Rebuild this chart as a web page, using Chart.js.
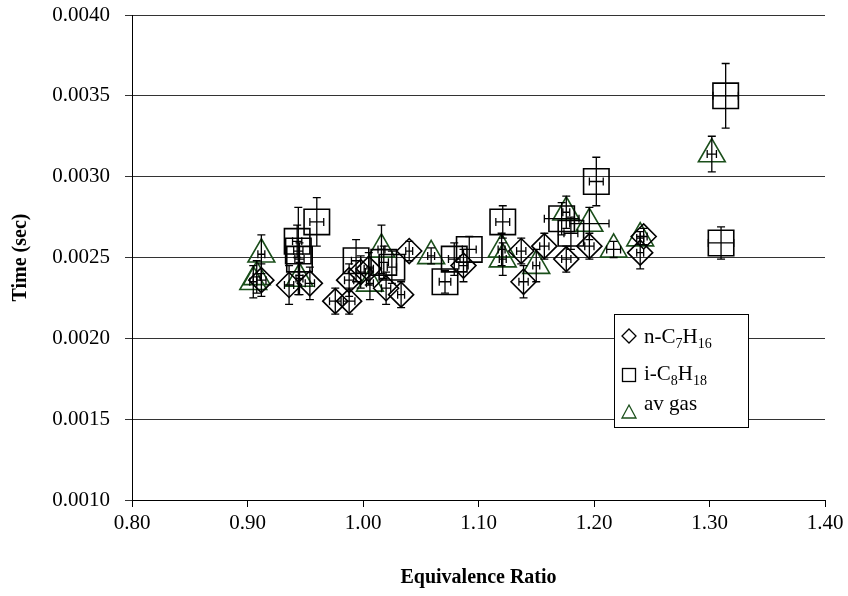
<!DOCTYPE html>
<html><head><meta charset="utf-8">
<script src="https://cdn.jsdelivr.net/npm/chart.js@4/dist/chart.umd.min.js"></script>
<style>html,body{margin:0;padding:0;background:#fff}</style>
</head><body>
<canvas id="c" width="848" height="596"></canvas>
<script>
// ---- Data ----
const heptaneX    = [0.912,0.936,0.954,0.976,0.988,0.988,0.998,1.005,1.020,1.033,1.040,1.087,1.137,1.139,1.157,1.176,1.196,1.240,1.243];
const heptaneY    = [0.00236,0.00233,0.00234,0.00223,0.00223,0.00236,0.00241,0.00243,0.00231,0.00227,0.00254,0.00245,0.00254,0.00235,0.00257,0.00249,0.00257,0.00253,0.00263];
const heptaneXErr = [0.004,0.004,0.004,0.005,0.005,0.004,0.004,0.004,0.004,0.003,0.003,0.004,0.004,0.004,0.004,0.004,0.004,0.003,0.003];
const heptaneYErr = [0.0001,0.00012,0.0001,0.00008,0.00008,0.0001,0.0001,0.0001,0.0001,0.00008,0.00006,0.0001,0.00008,0.0001,0.00008,0.00008,0.00008,0.0001,0.00005];

const isooctaneX    = [0.943,0.944,0.945,0.960,0.994,1.018,1.025,1.071,1.079,1.092,1.121,1.172,1.180,1.202,1.314,1.310];
const isooctaneY    = [0.00260,0.00254,0.00249,0.00272,0.00248,0.00247,0.00244,0.00235,0.00249,0.00255,0.00272,0.00274,0.00265,0.00297,0.00350,0.00259];
const isooctaneXErr = [0.004,0.004,0.004,0.006,0.004,0.004,0.004,0.005,0.005,0.006,0.006,0.015,0.006,0.006,0.011,0.011];
const isooctaneYErr = [0.0001,0.00027,0.0001,0.00015,0.00013,0.0001,0.0001,0.00007,0.0001,0.00008,0.0001,0.0001,0.0001,0.00015,0.0002,0.0001];

const avgasX    = [0.905,0.908,0.912,0.945,1.006,1.016,1.059,1.120,1.121,1.150,1.176,1.196,1.217,1.240,1.302];
const avgasY    = [0.00235,0.00238,0.00252,0.00237,0.00234,0.00255,0.00251,0.00255,0.00249,0.00245,0.00278,0.00271,0.00255,0.00262,0.00314];
const avgasXErr = [0.003,0.003,0.003,0.003,0.003,0.003,0.003,0.003,0.003,0.003,0.003,0.017,0.006,0.003,0.004];
const avgasYErr = [0.0001,0.0001,0.00012,0.0001,0.0001,0.00015,0.00005,0.0001,0.0001,0.0001,0.0001,0.0001,0.00005,0.00004,0.00011];

const xTickMin = 0.8, xTickMax = 1.4, xTickStep = 0.1;
const yTickMin = 0.001, yTickMax = 0.004, yTickStep = 0.0005;

const FONT = "'Liberation Serif', 'Times New Roman', serif";
const GREEN = '#1b4f1b';

function pts(xs, ys, xe, ye) {
  return xs.map((v, i) => ({x: v, y: ys[i], xe: xe[i], ye: ye[i]}));
}

const errorBars = {
  id: 'errorBars',
  afterDatasetsDraw(chart) {
    const {ctx, scales: {x, y}} = chart;
    ctx.save();
    ctx.strokeStyle = '#000';
    ctx.lineWidth = 1.3;
    const cap = 4;
    chart.data.datasets.forEach(ds => {
      ds.data.forEach(p => {
        const px = x.getPixelForValue(p.x), py = y.getPixelForValue(p.y);
        const y1 = y.getPixelForValue(p.y - p.ye), y2 = y.getPixelForValue(p.y + p.ye);
        const x1 = x.getPixelForValue(p.x - p.xe), x2 = x.getPixelForValue(p.x + p.xe);
        ctx.beginPath();
        ctx.moveTo(px, y1); ctx.lineTo(px, y2);
        ctx.moveTo(px - cap, y1); ctx.lineTo(px + cap, y1);
        ctx.moveTo(px - cap, y2); ctx.lineTo(px + cap, y2);
        ctx.moveTo(x1, py); ctx.lineTo(x2, py);
        ctx.moveTo(x1, py - cap); ctx.lineTo(x1, py + cap);
        ctx.moveTo(x2, py - cap); ctx.lineTo(x2, py + cap);
        ctx.stroke();
      });
    });
    ctx.restore();
  }
};

const customLegend = {
  id: 'customLegend',
  afterDraw(chart) {
    const {ctx} = chart;
    const bx = 614, by = 314, bw = 134, bh = 113;
    ctx.save();
    ctx.fillStyle = '#fff';
    ctx.fillRect(bx, by, bw, bh);
    ctx.strokeStyle = '#000';
    ctx.lineWidth = 1;
    ctx.strokeRect(bx + 0.5, by + 0.5, bw, bh);
    ctx.lineWidth = 1.3;
    ctx.strokeStyle = '#000';
    ctx.beginPath();
    ctx.moveTo(629, 329); ctx.lineTo(636, 336); ctx.lineTo(629, 343); ctx.lineTo(622, 336); ctx.closePath();
    ctx.stroke();
    ctx.strokeRect(622.5, 368.5, 13, 13);
    ctx.strokeStyle = GREEN;
    ctx.beginPath();
    ctx.moveTo(629, 405); ctx.lineTo(636, 418); ctx.lineTo(622, 418); ctx.closePath();
    ctx.stroke();
    ctx.fillStyle = '#000';
    ctx.textBaseline = 'alphabetic';
    ctx.textAlign = 'left';
    const big = '21px ' + FONT, small = '14px ' + FONT;
    function rich(parts, x, y) {
      parts.forEach(([t, sub]) => {
        ctx.font = sub ? small : big;
        ctx.fillText(t, x, sub ? y + 5 : y);
        x += ctx.measureText(t).width;
      });
    }
    rich([['n-C', false], ['7', true], ['H', false], ['16', true]], 644, 343);
    rich([['i-C', false], ['8', true], ['H', false], ['18', true]], 644, 380);
    rich([['av gas', false]], 644, 410);
    ctx.restore();
  }
};

new Chart(document.getElementById('c'), {
  type: 'scatter',
  data: {
    datasets: [
      {label: 'n-C7H16', data: pts(heptaneX, heptaneY, heptaneXErr, heptaneYErr),
       pointStyle: 'rectRot', pointRadius: 12.5, pointBorderColor: '#000', pointBackgroundColor: 'rgba(0,0,0,0)', pointBorderWidth: 1.6},
      {label: 'i-C8H18', data: pts(isooctaneX, isooctaneY, isooctaneXErr, isooctaneYErr),
       pointStyle: 'rect', pointRadius: 18, pointBorderColor: '#000', pointBackgroundColor: 'rgba(0,0,0,0)', pointBorderWidth: 1.6},
      {label: 'av gas', data: pts(avgasX, avgasY, avgasXErr, avgasYErr),
       pointStyle: 'triangle', pointRadius: 15.5, pointBorderColor: GREEN, pointBackgroundColor: 'rgba(0,0,0,0)', pointBorderWidth: 1.6}
    ]
  },
  options: {
    responsive: false,
    animation: false,
    events: [],
    layout: {autoPadding: false, padding: {top: 15, right: 23, left: 0, bottom: 0}},
    plugins: {legend: {display: false}, tooltip: {enabled: false}},
    scales: {
      x: {
        type: 'linear', min: xTickMin, max: xTickMax,
        ticks: {stepSize: xTickStep, callback: v => Number(v).toFixed(2), color: '#000', font: {family: FONT, size: 21}, padding: 4, maxRotation: 0},
        grid: {drawOnChartArea: false, drawTicks: true, tickLength: 7, color: '#000'},
        border: {color: '#000', width: 1},
        title: {display: true, text: 'Equivalence Ratio', color: '#000', font: {family: FONT, size: 20, weight: 'bold'}, padding: {top: 4, bottom: 6}},
        afterFit: s => { s.height = 96; s.paddingLeft = 0; s.paddingRight = 0; }
      },
      y: {
        type: 'linear', min: yTickMin, max: yTickMax,
        ticks: {stepSize: yTickStep, callback: v => Number(v).toFixed(4), color: '#000', font: {family: FONT, size: 21}, padding: 15},
        grid: {color: '#333', tickLength: 7, drawTicks: true},
        border: {color: '#000', width: 1},
        title: {display: true, text: 'Time (sec)', color: '#000', font: {family: FONT, size: 20, weight: 'bold'}, padding: {top: 9, bottom: 4}},
        afterFit: s => { s.width = 132; s.paddingTop = 0; s.paddingBottom = 0; }
      }
    }
  },
  plugins: [errorBars, customLegend]
});
</script>
</body></html>
